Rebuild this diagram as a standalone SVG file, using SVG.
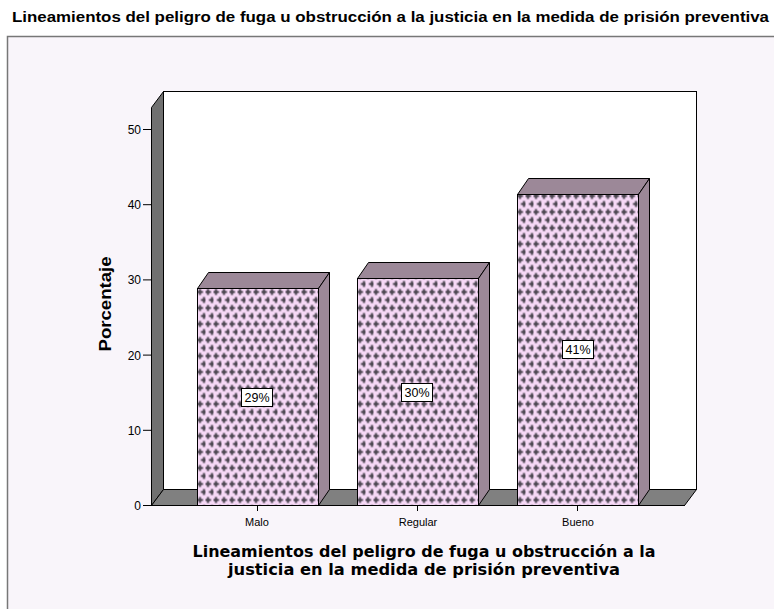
<svg xmlns="http://www.w3.org/2000/svg" width="774" height="609" viewBox="0 0 774 609">
<defs>
<pattern id="cross" width="8" height="16" patternUnits="userSpaceOnUse" x="197.5" y="288.5">
<rect width="8" height="16" fill="#F6D8F6"/>
<path d="M1.5 0.5h2v6h-2zM-0.5 2.5h6v2h-6zM5.5 8.5h2v6h-2zM3.5 10.5h6v2h-6zM-2.5 10.5h2v2h-2z" fill="#45404A"/>
</pattern>
<style>
text{font-family:"Liberation Sans",Arial,sans-serif;fill:#000}
.tick{font-size:12px;text-anchor:end}
.cat{font-size:11px;text-anchor:middle}
.pct{font-size:12.5px;text-anchor:middle}
.front{fill:url(#cross);stroke:#000;stroke-width:1}
.side{fill:#9C8898;stroke:#000;stroke-width:1}
.box{fill:#fff;stroke:#000;stroke-width:1}
.ax{stroke:#000;stroke-width:1;fill:none}
</style>
</defs>
<rect width="774" height="609" fill="#fff"/>
<text x="12" y="22" font-size="14" font-weight="bold" textLength="757" lengthAdjust="spacingAndGlyphs">Lineamientos del peligro de fuga u obstrucción a la justicia en la medida de prisión preventiva</text>
<rect x="7.5" y="36.5" width="780" height="580" fill="#F9F5FA" stroke="#777" stroke-width="1.5"/>

<g id="chart-walls">
<rect x="163.5" y="91.5" width="533" height="398" fill="#fff" stroke="#000"/>
<polygon points="151.5,505.5 151.5,107.5 163.5,91.5 163.5,489.5" fill="#707070" stroke="#000"/>
<polygon points="151.5,505.5 163.5,489.5 696.5,489.5 684.5,505.5" fill="#808080" stroke="#000"/>
</g>

<g id="y-axis">
<path class="ax" d="M143 505.5h8M143 430.3h8M143 355.1h8M143 279.9h8M143 204.7h8M143 129.5h8"/>
<text class="tick" x="141" y="510">0</text>
<text class="tick" x="141" y="435">10</text>
<text class="tick" x="141" y="360">20</text>
<text class="tick" x="141" y="284">30</text>
<text class="tick" x="141" y="209">40</text>
<text class="tick" x="141" y="134">50</text>
<text x="111" y="304" font-size="16" font-weight="bold" text-anchor="middle" textLength="95" lengthAdjust="spacingAndGlyphs" transform="rotate(-90 111 304)">Porcentaje</text>
</g>

<g id="bar-malo">
<polygon class="side" points="197.5,288.5 208.5,272.5 329.5,272.5 318.5,288.5"/>
<polygon class="side" points="318.5,288.5 329.5,272.5 329.5,489.5 318.5,505.5"/>
<rect class="front" x="197.5" y="288.5" width="121" height="217"/>
<rect class="box" x="241.5" y="388.5" width="31" height="18"/>
<text class="pct" x="257" y="402">29%</text>
</g>

<g id="bar-regular">
<polygon class="side" points="357.5,278.5 368.5,262.5 489.5,262.5 478.5,278.5"/>
<polygon class="side" points="478.5,278.5 489.5,262.5 489.5,489.5 478.5,505.5"/>
<rect class="front" x="357.5" y="278.5" width="121" height="227"/>
<rect class="box" x="401.5" y="383.5" width="31" height="18"/>
<text class="pct" x="417" y="397">30%</text>
</g>

<g id="bar-bueno">
<polygon class="side" points="517.5,194.5 528.5,178.5 649.5,178.5 638.5,194.5"/>
<polygon class="side" points="638.5,194.5 649.5,178.5 649.5,489.5 638.5,505.5"/>
<rect class="front" x="517.5" y="194.5" width="121" height="311"/>
<rect class="box" x="562.5" y="340.5" width="31" height="18"/>
<text class="pct" x="578" y="354">41%</text>
</g>

<g id="x-axis">
<path class="ax" d="M151 505.5h534M257.5 505v6M417.5 505v6M577.5 505v6"/>
<text class="cat" x="257" y="526">Malo</text>
<text class="cat" x="418" y="526">Regular</text>
<text class="cat" x="578" y="526">Bueno</text>
<text x="424" y="557" font-size="15" font-weight="bold" text-anchor="middle" textLength="463" lengthAdjust="spacingAndGlyphs" style="font-family:'DejaVu Sans',sans-serif">Lineamientos del peligro de fuga u obstrucción a la</text>
<text x="424" y="575" font-size="15" font-weight="bold" text-anchor="middle" textLength="392" lengthAdjust="spacingAndGlyphs" style="font-family:'DejaVu Sans',sans-serif">justicia en la medida de prisión preventiva</text>
</g>
</svg>
